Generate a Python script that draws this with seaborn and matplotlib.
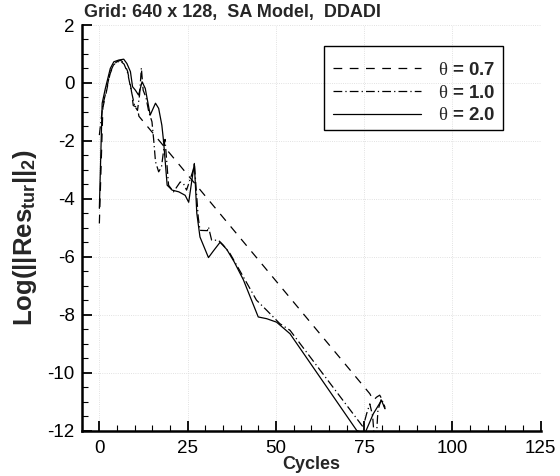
import matplotlib
matplotlib.use("Agg")
import matplotlib.pyplot as plt
import seaborn as sns
import numpy as np
from matplotlib.ticker import MultipleLocator
from matplotlib.patches import Rectangle

# ---- data ----
x_07 = [0, 1, 2, 3, 4, 5, 6, 7, 8, 9, 9.6, 10.8, 11.2, 76.6, 77.6, 78.5, 79.4, 80.2, 80.9]
y_07 = [-4.85, -0.85, -0.3, 0.3, 0.62, 0.74, 0.78, 0.7, 0.4, -0.2, -0.78, -0.85, -1.15,
        -10.73, -10.96, -10.85, -10.78, -10.95, -11.25]

x_10 = [0, 1, 2, 3, 4, 5, 6, 7, 8, 9, 10.0, 10.8, 11.4, 11.9, 12.4, 13.2, 14.0, 14.9, 15.4,
        15.9, 16.8, 17.6, 18.6, 19.6, 21.0, 22.9, 23.8, 24.7, 26.6, 26.9, 28.0, 28.5, 30.6,
        30.9, 31.8, 33.7, 35.1, 37.0, 40.8, 44.5, 47.4, 51.1, 54.0, 74.7, 75.7, 76.6, 77.4,
        78.2, 78.9, 79.9, 80.9]
y_10 = [-1.8, -0.75, -0.25, 0.35, 0.62, 0.72, 0.75, 0.65, 0.35, -0.25, -0.8, -0.95, -0.4,
        0.52, -0.25, -0.5, -1.0, -1.34, -1.98, -2.72, -3.07, -2.9, -1.95, -3.53, -3.76,
        -3.42, -3.47, -3.7, -3.0, -2.78, -4.63, -5.09, -5.1, -4.97, -5.43, -5.43, -5.6,
        -5.89, -6.7, -7.5, -7.85, -8.31, -8.54, -11.88, -11.42, -11.08, -11.5, -12.8,
        -11.3, -10.9, -11.2]

x_20 = [0, 0.8, 1.7, 3.1, 4.1, 5.5, 6.9, 7.8, 8.8, 9.4, 10.2, 11.1, 12.1, 13.0, 14.4, 15.9,
        16.8, 17.7, 18.2, 19.2, 20.6, 22.5, 24.3, 25.3, 26.9, 27.6, 28.5, 30.9, 32.3, 34.2,
        36.1, 38.2, 40.8, 45.0, 47.4, 50.2, 54.0, 72.9, 75.2, 77.6, 79.9, 80.9]
y_20 = [-4.33, -0.7, -0.19, 0.5, 0.73, 0.79, 0.82, 0.67, 0.39, -0.13, -0.25, -0.42, 0.04,
        -0.19, -1.11, -0.7, -0.88, -1.46, -2.03, -3.53, -3.7, -3.76, -3.88, -4.12, -2.78,
        -4.5, -5.32, -6.03, -5.8, -5.5, -5.75, -6.18, -6.8, -8.08, -8.14, -8.26, -8.66,
        -12.0, -12.1, -11.42, -10.96, -11.25]

labels = [r"$\mathrm{\theta}$ = 0.7", r"$\mathrm{\theta}$ = 1.0", r"$\mathrm{\theta}$ = 2.0"]
title = "Grid: 640 x 128,  SA Model,  DDADI"
xticks = [0, 25, 50, 75, 100, 125]
yticks = [2, 0, -2, -4, -6, -8, -10, -12]

# ---- style ----
sns.set_style("ticks")
plt.rcParams["font.family"] = ["Liberation Sans", "DejaVu Sans"]
plt.rcParams["axes.unicode_minus"] = False
plt.rcParams["mathtext.fontset"] = "custom"
plt.rcParams["mathtext.rm"] = "Liberation Serif"
plt.rcParams["mathtext.it"] = "Liberation Serif:italic"
plt.rcParams["mathtext.bf"] = "Liberation Sans:bold"

W, H = 560, 476
L, R, T, B = 81.7, 540.7, 25.0, 430.5
fig = plt.figure(figsize=(5.6, 4.76), dpi=100)
ax = fig.add_axes([L / W, (H - B) / H, (R - L) / W, (B - T) / H])

styles = [(0, (7, 6)), (0, (7, 2.5, 1, 2.5)), "-"]
for xs, ys, lab, ls in zip([x_07, x_10, x_20], [y_07, y_10, y_20], labels, styles):
    sns.lineplot(x=xs, y=ys, ax=ax, color="black", linewidth=0.9, linestyle=ls,
                 label=lab, estimator=None, sort=False)

ax.set_xlim(-5, 125)
ax.set_ylim(-12, 2)
ax.set_xticks(xticks)
ax.set_yticks(yticks)
ax.xaxis.set_minor_locator(MultipleLocator(5))
ax.yaxis.set_minor_locator(MultipleLocator(0.5))
ax.tick_params(which="major", direction="in", length=7.5, width=1.3, labelsize=13.5,
               colors="black")
ax.tick_params(axis="x", which="major", pad=7)
ax.tick_params(axis="y", which="major", pad=5)
ax.tick_params(which="minor", direction="in", length=4.2, width=0.8, colors="black")
for s in ["top", "right"]:
    ax.spines[s].set_visible(False)
for s in ["left", "bottom"]:
    ax.spines[s].set_linewidth(1.8)
    ax.spines[s].set_color("black")
ax.grid(True, which="major", linestyle=":", linewidth=0.6, color="#d8d8d8")

ax.set_xlabel("Cycles", fontsize=13, fontweight="bold", labelpad=-1)
ax.set_ylabel(r"Log(||Res$_{\mathbf{tur}}$||$_{\mathbf{2}}$)", fontsize=18.5, fontweight="bold")
# label anchor: right edge of the rotated text at x~39 px, centre at y~238 px
ax.yaxis.set_label_coords(-(L - 39) / (R - L), 0.5 - (238 - (T + B) / 2) / (B - T))
fig.text(84 / W, 1 - 13 / H, title, fontsize=13, fontweight="bold", ha="left", va="center")

# legend (frame drawn as a figure rectangle)
inv = ax.transAxes.inverted()
ax_x, ax_y = inv.transform((333, H - 93))
leg = ax.legend(loc="center left", bbox_to_anchor=(ax_x, ax_y), borderaxespad=0,
                frameon=False, fontsize=13.5, handlelength=4.7, handletextpad=0.9,
                labelspacing=0.3, borderpad=0)
for t in leg.get_texts():
    t.set_fontweight("bold")
fig.patches.append(Rectangle((324 / W, 1 - 130 / H), (503 - 324) / W, (130 - 46) / H,
                             transform=fig.transFigure, fill=False, edgecolor="black",
                             linewidth=1.0, zorder=5))

fig.savefig("out.png", dpi=100)
